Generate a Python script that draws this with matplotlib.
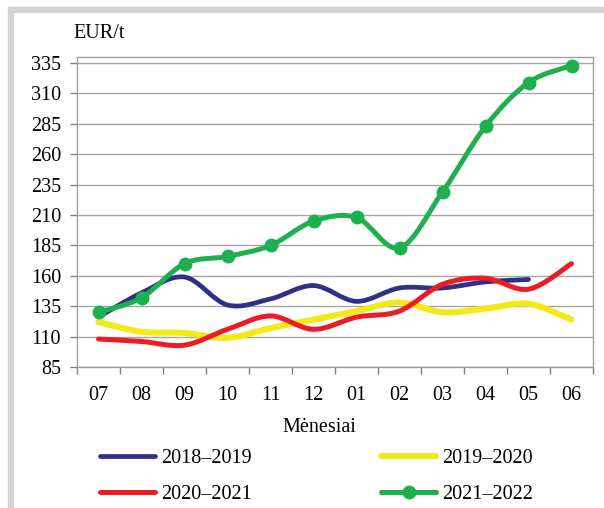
import numpy as np
import matplotlib.pyplot as plt
from matplotlib.path import Path
from matplotlib.patches import PathPatch, Rectangle
from matplotlib.lines import Line2D

plt.rcParams['font.family'] = ['Liberation Serif', 'DejaVu Serif']

months = ["07", "08", "09", "10", "11", "12", "01", "02", "03", "04", "05", "06"]
s2018 = [126, 146, 159, 136, 141, 152, 139, 150, 150, 155, 157]
s2019 = [122, 114, 113, 109, 117, 124, 131, 138, 130, 133, 137, 124]
s2020 = [108, 106, 103, 116, 127, 116, 126, 131, 153, 158, 149, 170]
s2021 = [130, 142, 170, 176, 185, 205, 208, 183, 229, 283, 319, 333]

labels = ["2018\u20132019", "2019\u20132020", "2020\u20132021", "2021\u20132022"]
colors = ["#2E3185", "#F2E917", "#ED1C24", "#1EB04E"]
widths = [3.4, 4.4, 3.6, 3.6]
yticks = np.arange(85, 336, 25)


def smooth_path(y):
    # excel style smoothed line: cubic bezier through every point
    x = np.arange(len(y), dtype=float)
    p = np.column_stack([x, np.asarray(y, dtype=float)])
    verts = [p[0]]
    codes = [Path.MOVETO]
    for i in range(len(p) - 1):
        p0 = p[i - 1] if i > 0 else p[i]
        p3 = p[i + 2] if i + 2 < len(p) else p[i + 1]
        c1 = p[i] + (p[i + 1] - p0) / 6
        c2 = p[i + 1] - (p3 - p[i]) / 6
        verts += [c1, c2, p[i + 1]]
        codes += [Path.CURVE4] * 3
    return Path(verts, codes)


fig = plt.figure(figsize=(6.04, 5.08), dpi=100)
fig.patches.append(Rectangle((10.5 / 604, -0.1), 1.2, 1 - 10.5 / 508 + 0.1,
                             transform=fig.transFigure, fill=False,
                             edgecolor="#D4D4D4", linewidth=4.5))
ax = fig.add_axes([77 / 604, 1 - 367 / 508, 516 / 604, 310 / 508])

for ys, c, w in zip([s2018, s2019, s2020, s2021], colors, widths):
    ax.add_patch(PathPatch(smooth_path(ys), fill=False, edgecolor=c,
                           linewidth=w, capstyle="round", joinstyle="round", zorder=3))
ax.plot(range(len(s2021)), s2021, "o", color=colors[3], markersize=9, zorder=4)

ax.set_xlim(-0.5, 11.5)
ax.set_ylim(85, 340)
ax.set_yticks(yticks)
ax.set_xticks(range(len(months)))
ax.set_xticklabels(months)
ax.set_xticks(np.arange(-0.5, 12, 1), minor=True)
ax.tick_params(axis="x", which="major", length=0, pad=14, labelsize=14.5)
ax.tick_params(axis="x", which="minor", length=5, width=1, color="#808080", direction="out")
ax.tick_params(axis="y", length=5, width=1, color="#808080", pad=6.5, labelsize=14.5)
ax.grid(axis="y", color="#A6A6A6", linewidth=1)
ax.set_axisbelow(True)
for sp in ax.spines.values():
    sp.set_color("#A0A0A0")
    sp.set_linewidth(1)

fig.text(319 / 604, 1 - 427 / 508, "M\u0117nesiai", ha="center", va="center", fontsize=14.5)
fig.text(73 / 604, 1 - 33 / 508, "EUR/t", ha="left", va="center", fontsize=14.5)

handles = [Line2D([], [], color=c, linewidth=w, solid_capstyle="round") for c, w in zip(colors, widths)]
handles[3] = Line2D([], [], color=colors[3], linewidth=widths[3], marker="o",
                    markersize=9, solid_capstyle="round")
order = [0, 2, 1, 3]
fig.legend([handles[i] for i in order], [labels[i] for i in order], ncol=2,
           loc="upper left", bbox_to_anchor=(100 / 604, 1 - 449 / 508),
           frameon=False, fontsize=14.5, handlelength=2.75, handletextpad=0.3,
           columnspacing=6.4, labelspacing=0.85, borderpad=0, borderaxespad=0)

fig.savefig("out.png", dpi=100)
